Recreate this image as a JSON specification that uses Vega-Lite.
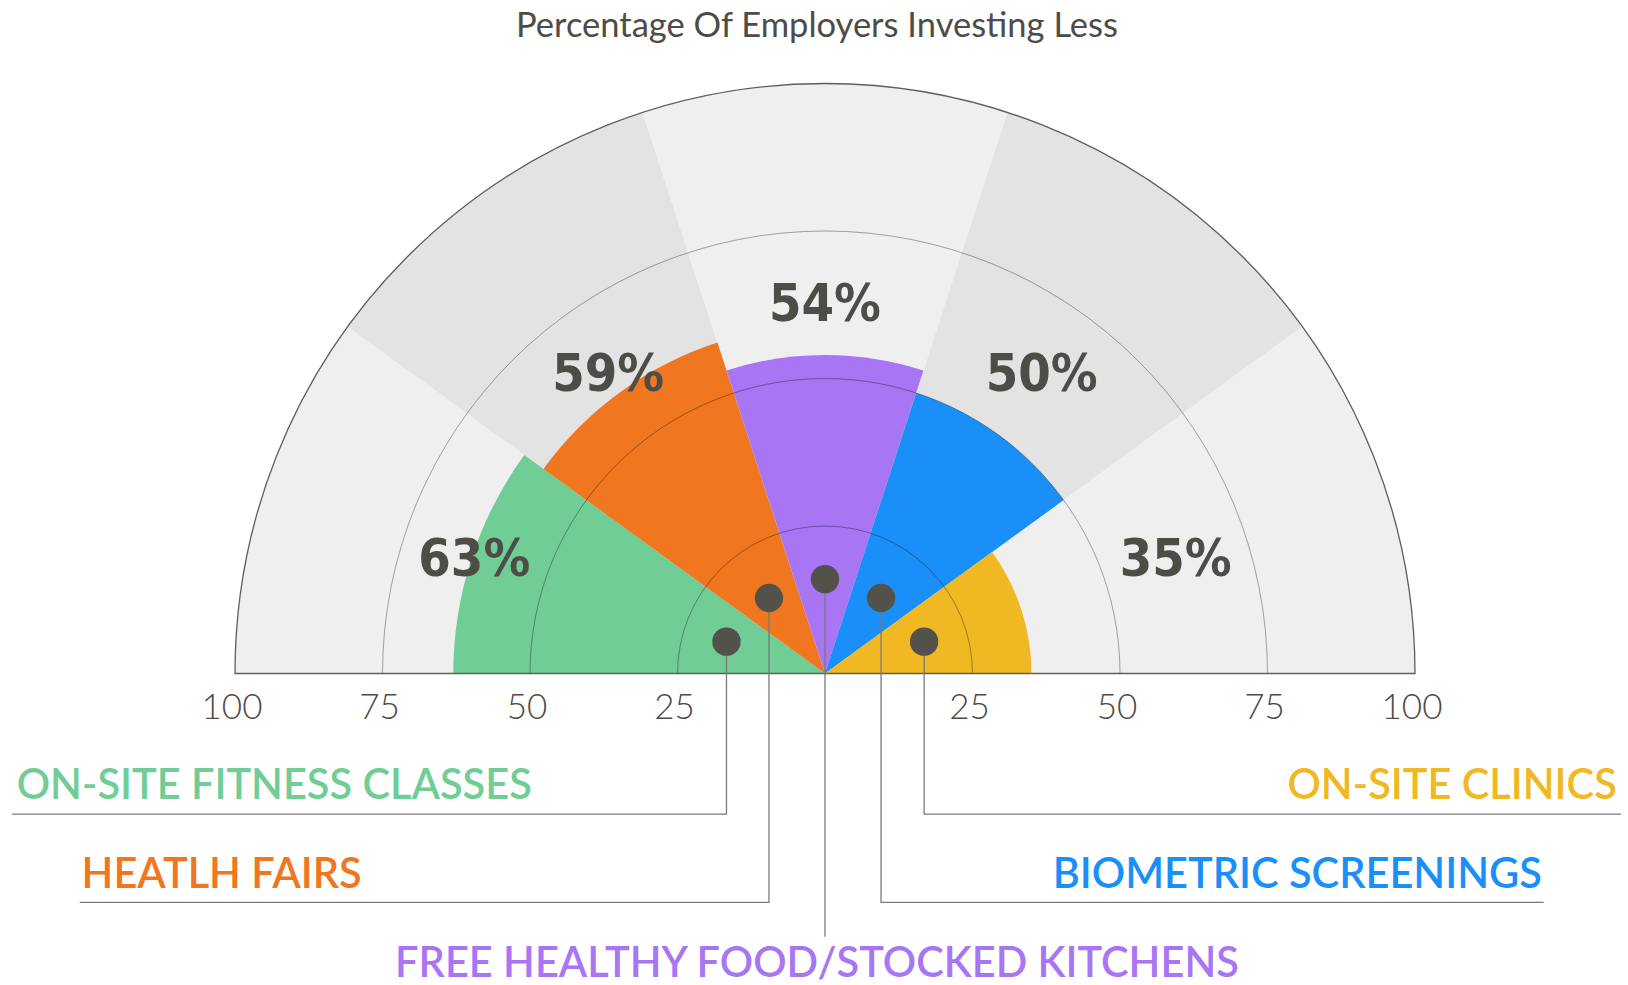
{
  "$schema": "https://vega.github.io/schema/vega-lite/v6.json",
  "autosize": "none",
  "padding": 0,
  "width": 1650,
  "height": 1347,
  "background": "#ffffff",
  "config": {"view": {"stroke": null}},
  "datasets": {
    "cats": [
      {"rank": 1, "cat": "ON-SITE FITNESS CLASSES", "share": 0.63},
      {"rank": 2, "cat": "HEATLH FAIRS", "share": 0.59},
      {"rank": 3, "cat": "FREE HEALTHY FOOD/STOCKED KITCHENS", "share": 0.54},
      {"rank": 4, "cat": "BIOMETRIC SCREENINGS", "share": 0.50},
      {"rank": 5, "cat": "ON-SITE CLINICS", "share": 0.35}
    ],
    "rings": [{"r": 0.25}, {"r": 0.5}, {"r": 0.75}],
    "ticks": [
      {"v": -100, "label": "100"}, {"v": -75, "label": "75"}, {"v": -50, "label": "50"}, {"v": -25, "label": "25"},
      {"v": 25, "label": "25"}, {"v": 50, "label": "50"}, {"v": 75, "label": "75"}, {"v": 100, "label": "100"}
    ],
    "leaders": [
      {"cat": "ON-SITE FITNESS CLASSES", "seg": 0, "x": -16.7, "y": 5.4},
      {"cat": "ON-SITE FITNESS CLASSES", "seg": 1, "x": -16.7, "y": -23.85},
      {"cat": "ON-SITE FITNESS CLASSES", "seg": 2, "x": -137.8, "y": -23.85},
      {"cat": "HEATLH FAIRS", "seg": 0, "x": -9.5, "y": 12.8},
      {"cat": "HEATLH FAIRS", "seg": 1, "x": -9.5, "y": -38.8},
      {"cat": "HEATLH FAIRS", "seg": 2, "x": -126.3, "y": -38.8},
      {"cat": "FREE HEALTHY FOOD/STOCKED KITCHENS", "seg": 0, "x": 0, "y": 16.0},
      {"cat": "FREE HEALTHY FOOD/STOCKED KITCHENS", "seg": 1, "x": 0, "y": -44.6},
      {"cat": "BIOMETRIC SCREENINGS", "seg": 0, "x": 9.5, "y": 12.8},
      {"cat": "BIOMETRIC SCREENINGS", "seg": 1, "x": 9.5, "y": -38.8},
      {"cat": "BIOMETRIC SCREENINGS", "seg": 2, "x": 121.8, "y": -38.8},
      {"cat": "ON-SITE CLINICS", "seg": 0, "x": 16.8, "y": 5.4},
      {"cat": "ON-SITE CLINICS", "seg": 1, "x": 16.8, "y": -23.85},
      {"cat": "ON-SITE CLINICS", "seg": 2, "x": 134.9, "y": -23.85}
    ],
    "labels": [
      {"cat": "ON-SITE FITNESS CLASSES", "side": "left", "x": -137.0, "y": -21.2},
      {"cat": "HEATLH FAIRS", "side": "left", "x": -126.0, "y": -36.3},
      {"cat": "FREE HEALTHY FOOD/STOCKED KITCHENS", "side": "center", "x": -1.36, "y": -51.4},
      {"cat": "BIOMETRIC SCREENINGS", "side": "right", "x": 121.5, "y": -36.4},
      {"cat": "ON-SITE CLINICS", "side": "right", "x": 134.2, "y": -21.2}
    ]
  },
  "layer": [
    {
      "data": {"name": "cats"},
      "mark": {"type": "arc", "stroke": null},
      "encoding": {
        "theta": {"aggregate": "count", "type": "quantitative", "stack": true, "scale": {"range": [-1.5707963, 1.5707963]}},
        "radius": {"datum": 1, "type": "quantitative", "scale": {"type": "linear", "domain": [0, 1], "range": [0, 590], "zero": true}},
        "order": {"field": "rank", "type": "quantitative"},
        "detail": {"field": "cat"},
        "fill": {"condition": {"test": "datum.rank % 2 === 0", "value": "#e3e3e3"}, "value": "#efefef"}
      }
    },
    {
      "data": {"name": "cats"},
      "mark": {"type": "arc", "stroke": null},
      "encoding": {
        "theta": {"aggregate": "count", "type": "quantitative", "stack": true},
        "radius": {"value": {"expr": "scale('radius', datum.share)"}},
        "order": {"field": "rank", "type": "quantitative"},
        "detail": [{"field": "cat"}, {"field": "share"}],
        "color": {
          "field": "cat", "type": "nominal", "legend": null,
          "scale": {
            "domain": ["ON-SITE FITNESS CLASSES", "HEATLH FAIRS", "FREE HEALTHY FOOD/STOCKED KITCHENS", "BIOMETRIC SCREENINGS", "ON-SITE CLINICS"],
            "range": ["#6fcd95", "#f07620", "#a876f5", "#1b8ff8", "#f0b823"]
          }
        }
      }
    },
    {
      "data": {"name": "rings"},
      "mark": {"type": "arc", "theta": -1.5707963, "theta2": 1.5707963, "filled": false, "stroke": "#000000", "strokeOpacity": 0.18, "strokeWidth": 1},
      "encoding": {
        "radius": {"field": "r", "type": "quantitative"},
        "radius2": {"field": "r"}
      }
    },
    {
      "data": {"values": [{"edge": 1}]},
      "mark": {"type": "arc", "theta": -1.5707963, "theta2": 1.5707963, "filled": false, "stroke": "#5f5f5a", "strokeWidth": 1.3},
      "encoding": {
        "radius": {"field": "edge", "type": "quantitative"}
      }
    },
    {
      "data": {"name": "cats"},
      "mark": {"type": "text", "font": "DejaVu Sans Condensed", "fontWeight": "bold", "fontSize": 52, "align": "center", "baseline": "middle", "color": "#4d4c46"},
      "encoding": {
        "theta": {"aggregate": "count", "type": "quantitative", "stack": true},
        "radius": {"datum": 0.625, "type": "quantitative"},
        "order": {"field": "rank", "type": "quantitative"},
        "detail": {"field": "cat"},
        "text": {"field": "share", "type": "quantitative", "format": ".0%"}
      }
    },
    {
      "data": {"values": [{"title": "Percentage Of Employers Investing Less"}]},
      "mark": {"type": "text", "font": "Lato", "fontWeight": 400, "fontSize": 34.5, "align": "center", "baseline": "alphabetic", "color": "#4d4c46"},
      "encoding": {
        "x": {"datum": -1.36, "type": "quantitative", "scale": {"domain": [-139.83, 139.83], "nice": false, "zero": false}, "axis": null},
        "y": {"datum": 107.95, "type": "quantitative", "scale": {"domain": [-114.153, 114.153], "nice": false, "zero": false}, "axis": null},
        "text": {"field": "title"}
      }
    },
    {
      "data": {"name": "ticks"},
      "mark": {"type": "text", "font": "Lato", "fontWeight": 300, "fontSize": 35, "align": "center", "baseline": "alphabetic", "color": "#4d4c46", "dx": -3},
      "encoding": {
        "x": {"field": "v", "type": "quantitative", "axis": null},
        "y": {"datum": -7.7, "type": "quantitative", "axis": null},
        "text": {"field": "label"}
      }
    },
    {
      "data": {"name": "leaders"},
      "mark": {"type": "line", "stroke": "#7a7a76", "strokeWidth": 1.3, "interpolate": "linear"},
      "encoding": {
        "x": {"field": "x", "type": "quantitative", "axis": null},
        "y": {"field": "y", "type": "quantitative", "axis": null},
        "detail": {"field": "cat"},
        "order": {"field": "seg", "type": "quantitative"}
      }
    },
    {
      "data": {"name": "leaders"},
      "transform": [{"filter": "datum.seg === 0"}],
      "mark": {"type": "point", "filled": true, "size": 804, "color": "#53524a", "opacity": 1},
      "encoding": {
        "x": {"field": "x", "type": "quantitative", "axis": null},
        "y": {"field": "y", "type": "quantitative", "axis": null}
      }
    },
    {
      "data": {"name": "labels"},
      "transform": [{"filter": "datum.side === 'left'"}],
      "mark": {"type": "text", "align": "left", "baseline": "alphabetic", "font": "Lato", "fontWeight": 600, "fontSize": 41.5},
      "encoding": {
        "x": {"field": "x", "type": "quantitative", "axis": null},
        "y": {"field": "y", "type": "quantitative", "axis": null},
        "text": {"field": "cat"},
        "color": {"field": "cat", "type": "nominal", "legend": null}
      }
    },
    {
      "data": {"name": "labels"},
      "transform": [{"filter": "datum.side === 'center'"}],
      "mark": {"type": "text", "align": "center", "baseline": "alphabetic", "font": "Lato", "fontWeight": 600, "fontSize": 41.5},
      "encoding": {
        "x": {"field": "x", "type": "quantitative", "axis": null},
        "y": {"field": "y", "type": "quantitative", "axis": null},
        "text": {"field": "cat"},
        "color": {"field": "cat", "type": "nominal", "legend": null}
      }
    },
    {
      "data": {"name": "labels"},
      "transform": [{"filter": "datum.side === 'right'"}],
      "mark": {"type": "text", "align": "right", "baseline": "alphabetic", "font": "Lato", "fontWeight": 600, "fontSize": 41.5},
      "encoding": {
        "x": {"field": "x", "type": "quantitative", "axis": null},
        "y": {"field": "y", "type": "quantitative", "axis": null},
        "text": {"field": "cat"},
        "color": {"field": "cat", "type": "nominal", "legend": null}
      }
    }
  ]
}
